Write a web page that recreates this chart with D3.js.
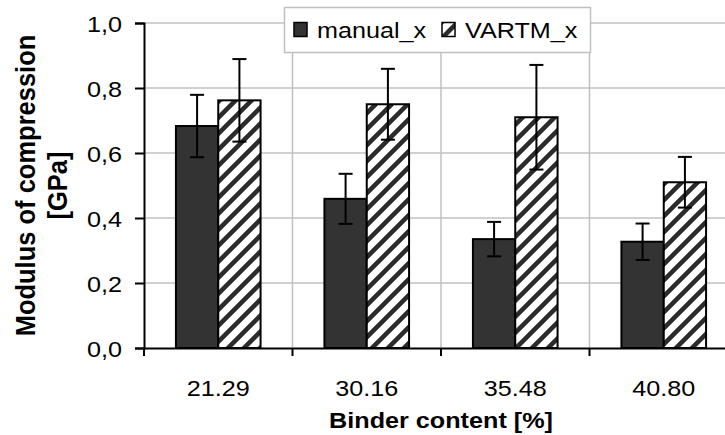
<!DOCTYPE html>
<html>
<head>
<meta charset="utf-8">
<script src="https://cdn.jsdelivr.net/npm/d3@7"></script>
<style>
  html, body { margin: 0; padding: 0; background: #fff; }
  svg { display: block; font-family: "Liberation Sans", Arial, sans-serif; }
</style>
</head>
<body>
<div id="chart"></div>
<script>
// values
const categories = ["21.29", "30.16", "35.48", "40.80"];
const seriesNames = ["manual_x", "VARTM_x"];
const manualValues = [0.683, 0.459, 0.335, 0.327];
const manualErrors = [0.096, 0.077, 0.053, 0.056];
const vartmValues = [0.762, 0.750, 0.710, 0.510];
const vartmErrors = [0.127, 0.109, 0.161, 0.078];
const yTicks = [0, 0.2, 0.4, 0.6, 0.8, 1.0];

const width = 725, height = 435;
// text in the reference is a bit wider than tall
const stretch = 1.12;

const svg = d3.select("#chart").append("svg")
    .attr("width", width)
    .attr("height", height);

svg.append("rect")
    .attr("width", width).attr("height", height)
    .attr("fill", "#fff");

// diagonal hatch for VARTM
const defs = svg.append("defs");
const pat = defs.append("pattern")
    .attr("id", "hatch")
    .attr("patternUnits", "userSpaceOnUse")
    .attr("width", 16).attr("height", 16);
pat.append("rect").attr("width", 16).attr("height", 16).attr("fill", "#fff");
pat.append("path")
    .attr("d", "M-4,4 l8,-8 M0,16 l16,-16 M12,20 l8,-8")
    .attr("stroke", "#2b2b2b")
    .attr("stroke-width", 4.5);

const plot = {left: 144, right: 738, top: 23, bottom: 348};

const x = d3.scaleBand()
    .domain(categories)
    .range([plot.left, plot.right]);

const bw = x.bandwidth();
const x1 = d3.scaleBand()
    .domain(seriesNames)
    .range([bw * 0.215, bw * 0.785]);

const y = d3.scaleLinear()
    .domain([0, 1])
    .range([plot.bottom, plot.top]);

// gridlines
const grid = svg.append("g")
    .attr("stroke", "#c0c0c0")
    .attr("stroke-width", 1.5);
grid.selectAll("line.h")
    .data(yTicks.filter(d => d > 0))
    .enter().append("line")
    .attr("x1", plot.left).attr("x2", plot.right)
    .attr("y1", d => y(d)).attr("y2", d => y(d));
grid.selectAll("line.v")
    .data(categories.slice(1))
    .enter().append("line")
    .attr("x1", d => x(d)).attr("x2", d => x(d))
    .attr("y1", plot.top).attr("y2", plot.bottom);

// bars
const series = [
    {name: "manual_x", values: manualValues, errors: manualErrors, fill: "#333333"},
    {name: "VARTM_x", values: vartmValues, errors: vartmErrors, fill: "url(#hatch)"},
];

series.forEach(s => {
    const g = svg.append("g");
    g.selectAll("rect")
        .data(categories)
        .enter().append("rect")
        .attr("x", d => x(d) + x1(s.name))
        .attr("y", (d, i) => y(s.values[i]))
        .attr("width", x1.bandwidth())
        .attr("height", (d, i) => y(0) - y(s.values[i]))
        .attr("fill", s.fill)
        .attr("stroke", "#000")
        .attr("stroke-width", 2);
});

// error bars
series.forEach(s => {
    const g = svg.append("g")
        .attr("stroke", "#000")
        .attr("stroke-width", 2);
    categories.forEach((c, i) => {
        const cx = x(c) + x1(s.name) + x1.bandwidth() / 2;
        const hi = y(s.values[i] + s.errors[i]);
        const lo = y(s.values[i] - s.errors[i]);
        g.append("line").attr("x1", cx).attr("x2", cx).attr("y1", hi).attr("y2", lo);
        g.append("line").attr("x1", cx - 7).attr("x2", cx + 7).attr("y1", hi).attr("y2", hi);
        g.append("line").attr("x1", cx - 7).attr("x2", cx + 7).attr("y1", lo).attr("y2", lo);
    });
});

// axes
const fmt = d => d3.format(".1f")(d).replace(".", ",");

const yAxis = svg.append("g")
    .attr("transform", `translate(${plot.left},0)`)
    .call(d3.axisLeft(y).tickValues(yTicks).tickSize(9).tickFormat(fmt));
yAxis.select(".domain").attr("stroke-width", 2);
yAxis.selectAll(".tick line").attr("stroke-width", 2);
yAxis.selectAll(".tick text")
    .attr("font-size", 22.5)
    .attr("fill", "#000")
    .attr("x", 0).attr("dy", "0.38em")
    .attr("transform", `translate(-22,0) scale(${stretch},1)`);

const xAxis = svg.append("g")
    .attr("transform", `translate(0,${plot.bottom})`)
    .call(d3.axisBottom(x).tickSize(0).tickFormat(""));
xAxis.select(".domain").attr("stroke-width", 2);

// category boundary ticks
svg.append("g")
    .attr("stroke", "#000").attr("stroke-width", 2)
    .selectAll("line")
    .data(categories)
    .enter().append("line")
    .attr("x1", d => x(d)).attr("x2", d => x(d))
    .attr("y1", plot.bottom).attr("y2", plot.bottom + 8);

svg.append("g")
    .selectAll("text")
    .data(categories)
    .enter().append("text")
    .attr("transform", d => `translate(${x(d) + bw / 2},396) scale(${stretch},1)`)
    .attr("text-anchor", "middle")
    .attr("font-size", 22.5)
    .text(d => d);

// axis titles
svg.append("text")
    .attr("transform", `translate(${(plot.left + plot.right) / 2},428) scale(${stretch},1)`)
    .attr("text-anchor", "middle")
    .attr("font-size", 22.5)
    .attr("font-weight", "bold")
    .text("Binder content [%]");

const yTitle = svg.append("text")
    .attr("transform", `translate(35,${(plot.top + plot.bottom) / 2}) scale(${stretch},1) rotate(-90)`)
    .attr("text-anchor", "middle")
    .attr("font-size", 25.5)
    .attr("font-weight", "bold");
yTitle.append("tspan").attr("x", 0).attr("y", 0).text("Modulus of compression");
yTitle.append("tspan").attr("x", 0).attr("y", 29).text("[GPa]");

// legend
const legend = svg.append("g");
legend.append("rect")
    .attr("x", 284.5).attr("y", 7.5)
    .attr("width", 306).attr("height", 45)
    .attr("fill", "#fff")
    .attr("stroke", "#c0c0c0")
    .attr("stroke-width", 1.5);

const legendX = [294, 442];
series.forEach((s, i) => {
    legend.append("rect")
        .attr("x", legendX[i]).attr("y", 22.5)
        .attr("width", 13).attr("height", 14)
        .attr("fill", s.fill)
        .attr("stroke", "#000")
        .attr("stroke-width", 1.5);
    legend.append("text")
        .attr("transform", `translate(${legendX[i] + 23},37.5) scale(${stretch},1)`)
        .attr("font-size", 22.5)
        .text(s.name);
});
</script>
</body>
</html>
